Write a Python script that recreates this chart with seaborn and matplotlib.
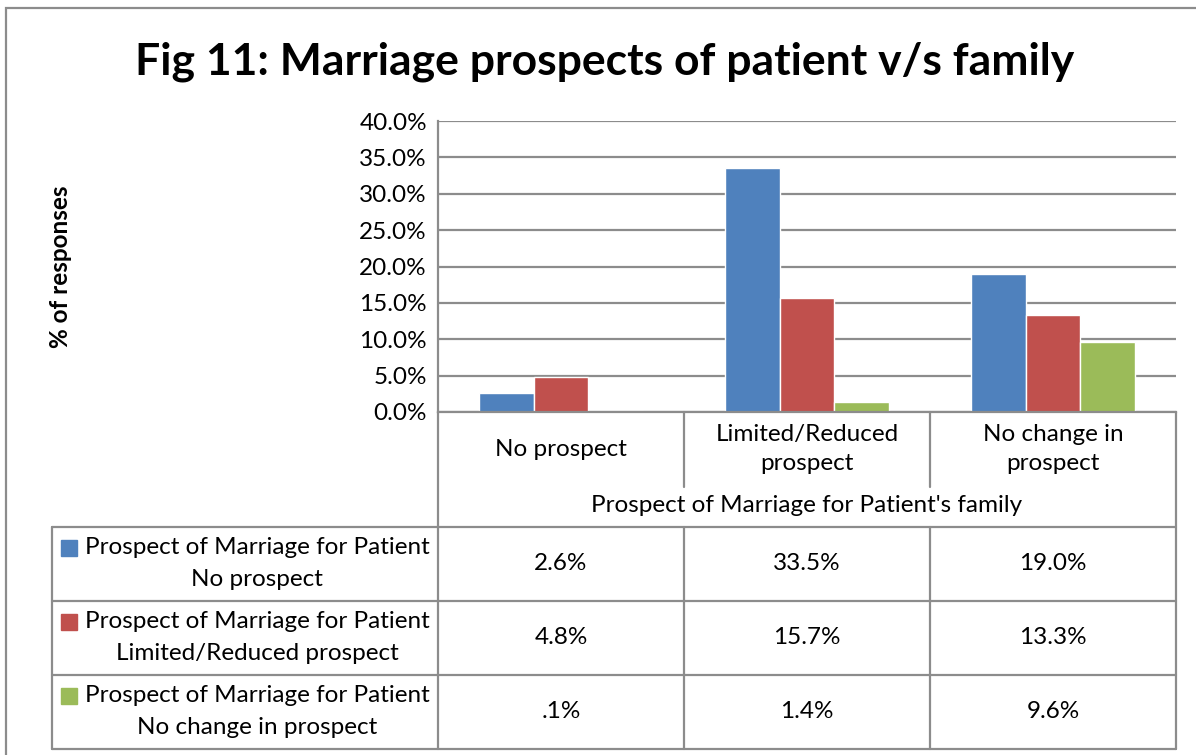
import matplotlib
matplotlib.use("Agg")
import matplotlib.pyplot as plt
import seaborn as sns
import pandas as pd
from matplotlib.lines import Line2D
from matplotlib.patches import Rectangle

# data
categories = ["No prospect", "Limited/Reduced prospect", "No change in prospect"]
cat_labels = ["No prospect", "Limited/Reduced\nprospect", "No change in\nprospect"]
series = ["Prospect of Marriage for Patient No prospect",
          "Prospect of Marriage for Patient Limited/Reduced prospect",
          "Prospect of Marriage for Patient No change in prospect"]
series_labels = [("Prospect of Marriage for Patient", "No prospect"),
                 ("Prospect of Marriage for Patient", "Limited/Reduced prospect"),
                 ("Prospect of Marriage for Patient", "No change in prospect")]
no_prospect = [2.6, 33.5, 19.0]
limited = [4.8, 15.7, 13.3]
no_change = [0.1, 1.4, 9.6]
cell_text = [["2.6%", "33.5%", "19.0%"],
             ["4.8%", "15.7%", "13.3%"],
             [".1%", "1.4%", "9.6%"]]
colors = ["#4F81BD", "#C0504D", "#9BBB59"]

sns.set_style("white")
plt.rcParams["font.family"] = ["Lato", "DejaVu Sans"]
FS = 17.5

W, H = 1196, 755
fig = plt.figure(figsize=(W / 100, H / 100), dpi=100)

def fx(x):
    return x / W

def fy(y):
    return 1 - y / H

def hline(x0, x1, y, lw=1.6, c="#8c8c8c"):
    fig.add_artist(Line2D([fx(x0), fx(x1)], [fy(y), fy(y)], color=c, lw=lw))

def vline(x, y0, y1, lw=1.6, c="#8c8c8c"):
    fig.add_artist(Line2D([fx(x), fx(x)], [fy(y0), fy(y1)], color=c, lw=lw))

# long-form table for seaborn
df = pd.DataFrame({
    "category": categories * 3,
    "series": [series[0]] * 3 + [series[1]] * 3 + [series[2]] * 3,
    "value": [v / 100 for v in no_prospect + limited + no_change],
})

ax = fig.add_axes([fx(438), fy(412), fx(1176) - fx(438), fy(121) - fy(412)])
sns.barplot(data=df, x="category", y="value", hue="series", order=categories,
            hue_order=series, palette=colors, width=0.667, saturation=1,
            ax=ax, legend=False, errorbar=None)
ax.set_xlim(-0.5, 2.5)
ax.set_ylim(0, 0.40)
ax.set_yticks([i * 0.05 for i in range(9)])
ax.set_yticklabels([f"{i * 5:.1f}%" for i in range(9)], fontsize=FS)
ax.set_xticks([])
ax.set_xlabel("")
ax.set_ylabel("")
ax.tick_params(axis="y", length=0, pad=8, colors="black")
ax.yaxis.grid(True, color="#8c8c8c", lw=1.6)
ax.set_axisbelow(True)
for s in ["top", "right"]:
    ax.spines[s].set_visible(False)
for s in ["left", "bottom"]:
    ax.spines[s].set_color("#8c8c8c")
    ax.spines[s].set_linewidth(1.6)

# outer chart border
fig.add_artist(Rectangle((fx(6), fy(790)), fx(1240), fy(8) - fy(790),
                         fill=False, ec="#8c8c8c", lw=1.6))

fig.text(fx(605), fy(62), "Fig 11: Marriage prospects of patient v/s family",
         ha="center", va="center", fontsize=32, fontweight="bold", color="black")
fig.text(fx(60), fy(267), "% of responses", rotation=90, ha="center",
         va="center", fontsize=FS, fontweight="bold", color="black")

# data table below the axes
cols = [438, 684, 930, 1176]
rows = [527, 601, 675, 749]
vline(438, 412, 749)
vline(1176, 412, 749)
for x in cols[1:3]:
    vline(x, 412, 487)
    vline(x, 527, 749)
for y in rows:
    hline(52, 1176, y)
vline(52, 527, 749)

for i, lab in enumerate(cat_labels):
    cx = (cols[i] + cols[i + 1]) / 2
    fig.text(fx(cx), fy(449), lab, ha="center", va="center", fontsize=FS,
             linespacing=1.5, color="black")
fig.text(fx(807), fy(506), "Prospect of Marriage for Patient's family",
         ha="center", va="center", fontsize=FS, color="black")

for r in range(3):
    y0, y1 = rows[r], rows[r + 1]
    cy = (y0 + y1) / 2
    fig.add_artist(Rectangle((fx(61), fy(y0 + 29)), fx(16), fy(y0 + 13) - fy(y0 + 29),
                             color=colors[r], transform=fig.transFigure))
    fig.text(fx(257), fy(y0 + 21), series_labels[r][0], ha="center",
             va="center", fontsize=FS, color="black")
    fig.text(fx(257), fy(y0 + 53), series_labels[r][1], ha="center",
             va="center", fontsize=FS, color="black")
    for c in range(3):
        cx = (cols[c] + cols[c + 1]) / 2
        fig.text(fx(cx), fy(cy), cell_text[r][c], ha="center", va="center",
                 fontsize=FS, color="black")

fig.savefig("out.png", dpi=100)
